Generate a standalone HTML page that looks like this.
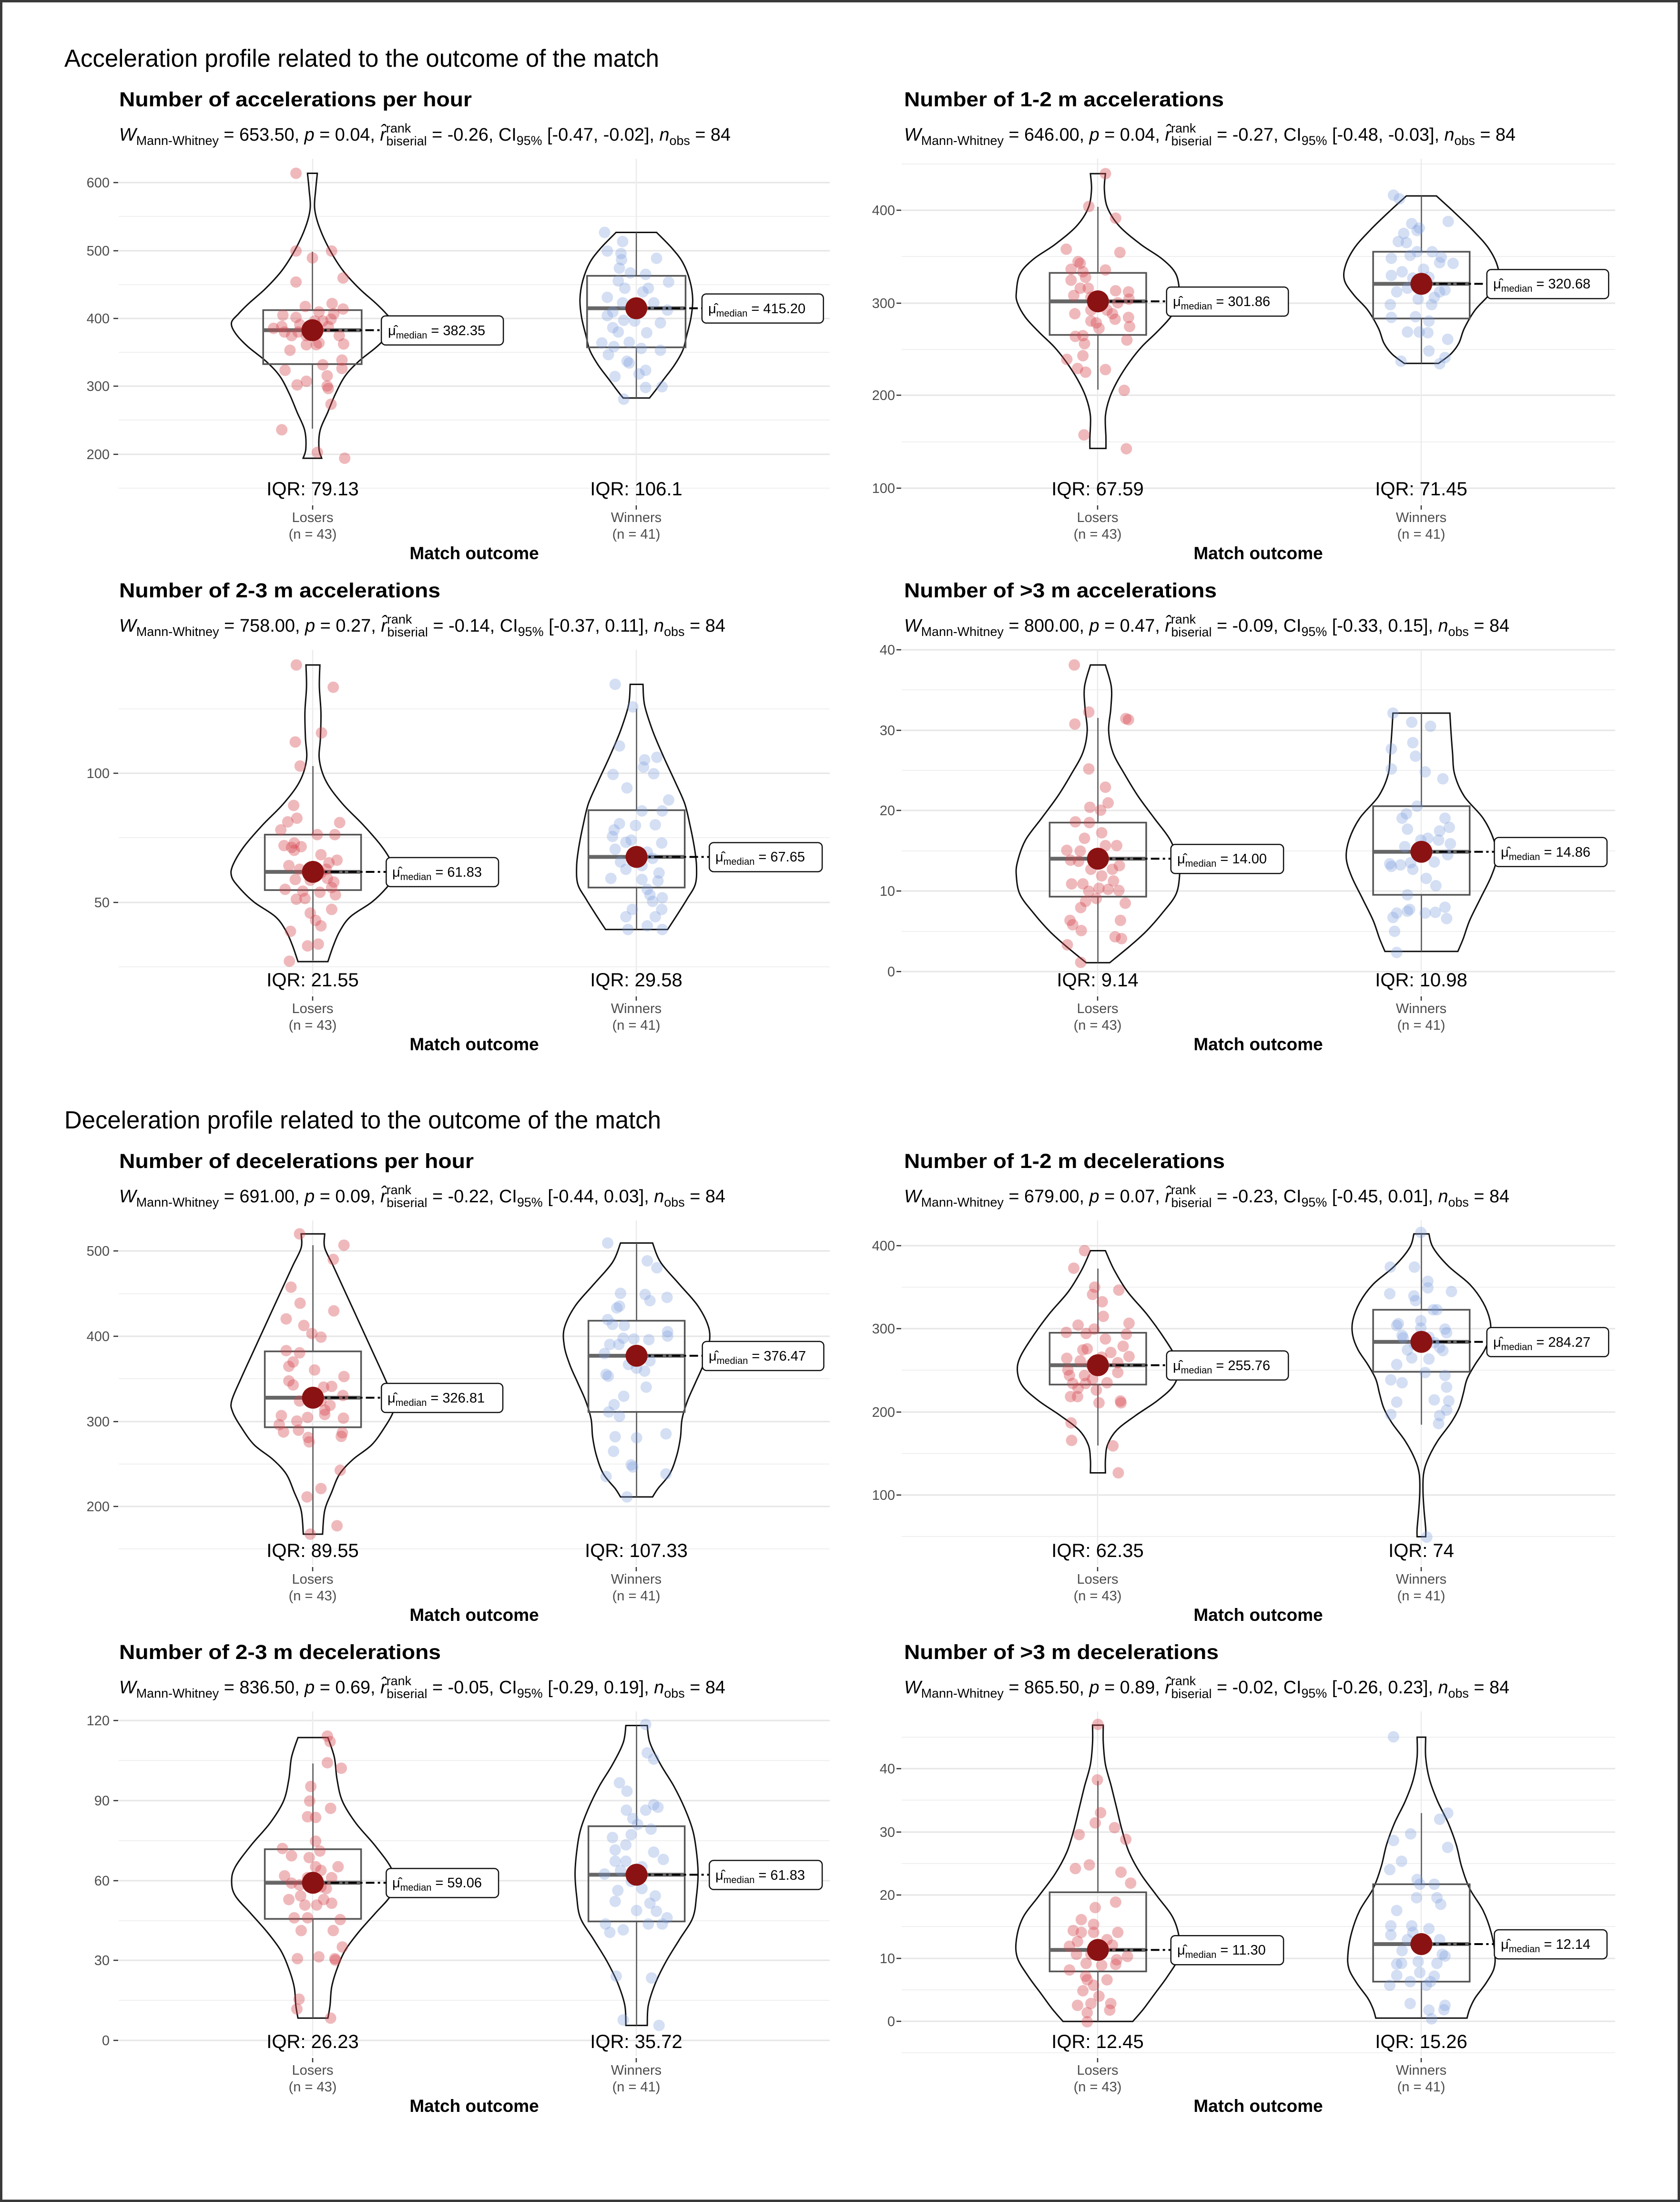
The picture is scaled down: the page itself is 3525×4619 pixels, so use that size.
<!DOCTYPE html>
<html><head><meta charset="utf-8">
<style>
html,body{margin:0;padding:0;background:#fff;}
svg{display:block;}
text{font-family:"Liberation Sans",Arial,sans-serif;}
.sec{font-size:52px;fill:#000;}
.ttl{font-size:43px;font-weight:bold;fill:#000;}
.sub{font-size:38px;fill:#000;}
.s{font-size:27px;}
.tk{font-size:29px;fill:#4d4d4d;text-anchor:end;}
.iqr{font-size:40px;fill:#000;text-anchor:middle;}
.xl{font-size:29px;fill:#4d4d4d;text-anchor:middle;}
.xt{font-size:37px;font-weight:bold;fill:#000;text-anchor:middle;}
.ml{font-size:29px;fill:#000;}
.ms{font-size:20px;}
</style></head>
<body>
<svg id="s" width="3525" height="4619" viewBox="0 0 3525 4619" xmlns="http://www.w3.org/2000/svg">
<rect x="0" y="0" width="3525" height="4619" fill="#fff"/>
<g id="geo"></g>

<text class="sec" x="135" y="140" textLength="1248" lengthAdjust="spacingAndGlyphs">Acceleration profile related to the outcome of the match</text>
<text class="sec" x="135" y="2367" textLength="1252" lengthAdjust="spacingAndGlyphs">Deceleration profile related to the outcome of the match</text>

<!-- Titles -->
<text class="ttl" x="250" y="223" textLength="740" lengthAdjust="spacingAndGlyphs">Number of accelerations per hour</text>
<text class="ttl" x="1897" y="223" textLength="671" lengthAdjust="spacingAndGlyphs">Number of 1-2 m accelerations</text>
<text class="ttl" x="250" y="1253" textLength="674" lengthAdjust="spacingAndGlyphs">Number of 2-3 m accelerations</text>
<text class="ttl" x="1897" y="1253" textLength="656" lengthAdjust="spacingAndGlyphs">Number of &gt;3 m accelerations</text>
<text class="ttl" x="250" y="2450" textLength="744" lengthAdjust="spacingAndGlyphs">Number of decelerations per hour</text>
<text class="ttl" x="1897" y="2450" textLength="673" lengthAdjust="spacingAndGlyphs">Number of 1-2 m decelerations</text>
<text class="ttl" x="250" y="3480" textLength="675" lengthAdjust="spacingAndGlyphs">Number of 2-3 m decelerations</text>
<text class="ttl" x="1897" y="3480" textLength="660" lengthAdjust="spacingAndGlyphs">Number of &gt;3 m decelerations</text>

<!-- Subtitles -->
<text class="sub" x="250" y="295" textLength="1283" lengthAdjust="spacingAndGlyphs"><tspan font-style="italic">W</tspan><tspan class="s" dy="9">Mann-Whitney</tspan><tspan dy="-9"> = 653.50, </tspan><tspan font-style="italic">p</tspan><tspan> = 0.04, </tspan><tspan font-style="italic">r̂</tspan><tspan class="s" dy="-17">rank</tspan><tspan class="s" dx="-52" dy="27">biserial</tspan><tspan dy="-10"> = -0.26, CI</tspan><tspan class="s" dy="9">95%</tspan><tspan dy="-9"> [-0.47, -0.02], </tspan><tspan font-style="italic">n</tspan><tspan class="s" dy="9">obs</tspan><tspan dy="-9"> = 84</tspan></text>
<text class="sub" x="1897" y="295" textLength="1283" lengthAdjust="spacingAndGlyphs"><tspan font-style="italic">W</tspan><tspan class="s" dy="9">Mann-Whitney</tspan><tspan dy="-9"> = 646.00, </tspan><tspan font-style="italic">p</tspan><tspan> = 0.04, </tspan><tspan font-style="italic">r̂</tspan><tspan class="s" dy="-17">rank</tspan><tspan class="s" dx="-52" dy="27">biserial</tspan><tspan dy="-10"> = -0.27, CI</tspan><tspan class="s" dy="9">95%</tspan><tspan dy="-9"> [-0.48, -0.03], </tspan><tspan font-style="italic">n</tspan><tspan class="s" dy="9">obs</tspan><tspan dy="-9"> = 84</tspan></text>
<text class="sub" x="250" y="1325" textLength="1272" lengthAdjust="spacingAndGlyphs"><tspan font-style="italic">W</tspan><tspan class="s" dy="9">Mann-Whitney</tspan><tspan dy="-9"> = 758.00, </tspan><tspan font-style="italic">p</tspan><tspan> = 0.27, </tspan><tspan font-style="italic">r̂</tspan><tspan class="s" dy="-17">rank</tspan><tspan class="s" dx="-52" dy="27">biserial</tspan><tspan dy="-10"> = -0.14, CI</tspan><tspan class="s" dy="9">95%</tspan><tspan dy="-9"> [-0.37, 0.11], </tspan><tspan font-style="italic">n</tspan><tspan class="s" dy="9">obs</tspan><tspan dy="-9"> = 84</tspan></text>
<text class="sub" x="1897" y="1325" textLength="1270" lengthAdjust="spacingAndGlyphs"><tspan font-style="italic">W</tspan><tspan class="s" dy="9">Mann-Whitney</tspan><tspan dy="-9"> = 800.00, </tspan><tspan font-style="italic">p</tspan><tspan> = 0.47, </tspan><tspan font-style="italic">r̂</tspan><tspan class="s" dy="-17">rank</tspan><tspan class="s" dx="-52" dy="27">biserial</tspan><tspan dy="-10"> = -0.09, CI</tspan><tspan class="s" dy="9">95%</tspan><tspan dy="-9"> [-0.33, 0.15], </tspan><tspan font-style="italic">n</tspan><tspan class="s" dy="9">obs</tspan><tspan dy="-9"> = 84</tspan></text>
<text class="sub" x="250" y="2522" textLength="1272" lengthAdjust="spacingAndGlyphs"><tspan font-style="italic">W</tspan><tspan class="s" dy="9">Mann-Whitney</tspan><tspan dy="-9"> = 691.00, </tspan><tspan font-style="italic">p</tspan><tspan> = 0.09, </tspan><tspan font-style="italic">r̂</tspan><tspan class="s" dy="-17">rank</tspan><tspan class="s" dx="-52" dy="27">biserial</tspan><tspan dy="-10"> = -0.22, CI</tspan><tspan class="s" dy="9">95%</tspan><tspan dy="-9"> [-0.44, 0.03], </tspan><tspan font-style="italic">n</tspan><tspan class="s" dy="9">obs</tspan><tspan dy="-9"> = 84</tspan></text>
<text class="sub" x="1897" y="2522" textLength="1270" lengthAdjust="spacingAndGlyphs"><tspan font-style="italic">W</tspan><tspan class="s" dy="9">Mann-Whitney</tspan><tspan dy="-9"> = 679.00, </tspan><tspan font-style="italic">p</tspan><tspan> = 0.07, </tspan><tspan font-style="italic">r̂</tspan><tspan class="s" dy="-17">rank</tspan><tspan class="s" dx="-52" dy="27">biserial</tspan><tspan dy="-10"> = -0.23, CI</tspan><tspan class="s" dy="9">95%</tspan><tspan dy="-9"> [-0.45, 0.01], </tspan><tspan font-style="italic">n</tspan><tspan class="s" dy="9">obs</tspan><tspan dy="-9"> = 84</tspan></text>
<text class="sub" x="250" y="3552" textLength="1272" lengthAdjust="spacingAndGlyphs"><tspan font-style="italic">W</tspan><tspan class="s" dy="9">Mann-Whitney</tspan><tspan dy="-9"> = 836.50, </tspan><tspan font-style="italic">p</tspan><tspan> = 0.69, </tspan><tspan font-style="italic">r̂</tspan><tspan class="s" dy="-17">rank</tspan><tspan class="s" dx="-52" dy="27">biserial</tspan><tspan dy="-10"> = -0.05, CI</tspan><tspan class="s" dy="9">95%</tspan><tspan dy="-9"> [-0.29, 0.19], </tspan><tspan font-style="italic">n</tspan><tspan class="s" dy="9">obs</tspan><tspan dy="-9"> = 84</tspan></text>
<text class="sub" x="1897" y="3552" textLength="1270" lengthAdjust="spacingAndGlyphs"><tspan font-style="italic">W</tspan><tspan class="s" dy="9">Mann-Whitney</tspan><tspan dy="-9"> = 865.50, </tspan><tspan font-style="italic">p</tspan><tspan> = 0.89, </tspan><tspan font-style="italic">r̂</tspan><tspan class="s" dy="-17">rank</tspan><tspan class="s" dx="-52" dy="27">biserial</tspan><tspan dy="-10"> = -0.02, CI</tspan><tspan class="s" dy="9">95%</tspan><tspan dy="-9"> [-0.26, 0.23], </tspan><tspan font-style="italic">n</tspan><tspan class="s" dy="9">obs</tspan><tspan dy="-9"> = 84</tspan></text>

<!-- Y tick labels -->
<g class="tk">
<text class="tk" x="230" y="393">600</text><text class="tk" x="230" y="536">500</text><text class="tk" x="230" y="678">400</text><text class="tk" x="230" y="820">300</text><text class="tk" x="230" y="963">200</text>
<text class="tk" x="1878" y="451">400</text><text class="tk" x="1878" y="646">300</text><text class="tk" x="1878" y="839">200</text><text class="tk" x="1878" y="1034">100</text>
<text class="tk" x="230" y="1632">100</text><text class="tk" x="230" y="1903">50</text>
<text class="tk" x="1878" y="1373">40</text><text class="tk" x="1878" y="1542">30</text><text class="tk" x="1878" y="1710">20</text><text class="tk" x="1878" y="1879">10</text><text class="tk" x="1878" y="2048">0</text>
<text class="tk" x="230" y="2634">500</text><text class="tk" x="230" y="2813">400</text><text class="tk" x="230" y="2992">300</text><text class="tk" x="230" y="3170">200</text>
<text class="tk" x="1878" y="2623">400</text><text class="tk" x="1878" y="2797">300</text><text class="tk" x="1878" y="2972">200</text><text class="tk" x="1878" y="3146">100</text>
<text class="tk" x="230" y="3619">120</text><text class="tk" x="230" y="3787">90</text><text class="tk" x="230" y="3955">60</text><text class="tk" x="230" y="4122">30</text><text class="tk" x="230" y="4290">0</text>
<text class="tk" x="1878" y="3720">40</text><text class="tk" x="1878" y="3853">30</text><text class="tk" x="1878" y="3985">20</text><text class="tk" x="1878" y="4118">10</text><text class="tk" x="1878" y="4250">0</text>
</g>

<!-- IQR labels -->
<text class="iqr" x="656" y="1039">IQR: 79.13</text><text class="iqr" x="1335" y="1039">IQR: 106.1</text>
<text class="iqr" x="2303" y="1039">IQR: 67.59</text><text class="iqr" x="2982" y="1039">IQR: 71.45</text>
<text class="iqr" x="656" y="2069">IQR: 21.55</text><text class="iqr" x="1335" y="2069">IQR: 29.58</text>
<text class="iqr" x="2303" y="2069">IQR: 9.14</text><text class="iqr" x="2982" y="2069">IQR: 10.98</text>
<text class="iqr" x="656" y="3266">IQR: 89.55</text><text class="iqr" x="1335" y="3266">IQR: 107.33</text>
<text class="iqr" x="2303" y="3266">IQR: 62.35</text><text class="iqr" x="2982" y="3266">IQR: 74</text>
<text class="iqr" x="656" y="4296">IQR: 26.23</text><text class="iqr" x="1335" y="4296">IQR: 35.72</text>
<text class="iqr" x="2303" y="4296">IQR: 12.45</text><text class="iqr" x="2982" y="4296">IQR: 15.26</text>

<!-- X labels -->
<text class="xl" x="656" y="1095">Losers</text><text class="xl" x="656" y="1130">(n = 43)</text><text class="xl" x="1335" y="1095">Winners</text><text class="xl" x="1335" y="1130">(n = 41)</text><text class="xt" x="995" y="1173">Match outcome</text>
<text class="xl" x="2303" y="1095">Losers</text><text class="xl" x="2303" y="1130">(n = 43)</text><text class="xl" x="2982" y="1095">Winners</text><text class="xl" x="2982" y="1130">(n = 41)</text><text class="xt" x="2640" y="1173">Match outcome</text>
<text class="xl" x="656" y="2125">Losers</text><text class="xl" x="656" y="2160">(n = 43)</text><text class="xl" x="1335" y="2125">Winners</text><text class="xl" x="1335" y="2160">(n = 41)</text><text class="xt" x="995" y="2203">Match outcome</text>
<text class="xl" x="2303" y="2125">Losers</text><text class="xl" x="2303" y="2160">(n = 43)</text><text class="xl" x="2982" y="2125">Winners</text><text class="xl" x="2982" y="2160">(n = 41)</text><text class="xt" x="2640" y="2203">Match outcome</text>
<text class="xl" x="656" y="3322">Losers</text><text class="xl" x="656" y="3357">(n = 43)</text><text class="xl" x="1335" y="3322">Winners</text><text class="xl" x="1335" y="3357">(n = 41)</text><text class="xt" x="995" y="3400">Match outcome</text>
<text class="xl" x="2303" y="3322">Losers</text><text class="xl" x="2303" y="3357">(n = 43)</text><text class="xl" x="2982" y="3322">Winners</text><text class="xl" x="2982" y="3357">(n = 41)</text><text class="xt" x="2640" y="3400">Match outcome</text>
<text class="xl" x="656" y="4352">Losers</text><text class="xl" x="656" y="4387">(n = 43)</text><text class="xl" x="1335" y="4352">Winners</text><text class="xl" x="1335" y="4387">(n = 41)</text><text class="xt" x="995" y="4430">Match outcome</text>
<text class="xl" x="2303" y="4352">Losers</text><text class="xl" x="2303" y="4387">(n = 43)</text><text class="xl" x="2982" y="4352">Winners</text><text class="xl" x="2982" y="4387">(n = 41)</text><text class="xt" x="2640" y="4430">Match outcome</text>

<!-- Median labels -->
<text class="ml" x="814" y="703">μ̂<tspan class="ms" dy="7">median</tspan><tspan dy="-7"> = 382.35</tspan></text>
<text class="ml" x="1486" y="657">μ̂<tspan class="ms" dy="7">median</tspan><tspan dy="-7"> = 415.20</tspan></text>
<text class="ml" x="2461" y="642">μ̂<tspan class="ms" dy="7">median</tspan><tspan dy="-7"> = 301.86</tspan></text>
<text class="ml" x="3133" y="605">μ̂<tspan class="ms" dy="7">median</tspan><tspan dy="-7"> = 320.68</tspan></text>
<text class="ml" x="823" y="1839">μ̂<tspan class="ms" dy="7">median</tspan><tspan dy="-7"> = 61.83</tspan></text>
<text class="ml" x="1501" y="1807">μ̂<tspan class="ms" dy="7">median</tspan><tspan dy="-7"> = 67.65</tspan></text>
<text class="ml" x="2470" y="1811">μ̂<tspan class="ms" dy="7">median</tspan><tspan dy="-7"> = 14.00</tspan></text>
<text class="ml" x="3149" y="1797">μ̂<tspan class="ms" dy="7">median</tspan><tspan dy="-7"> = 14.86</tspan></text>
<text class="ml" x="813" y="2942">μ̂<tspan class="ms" dy="7">median</tspan><tspan dy="-7"> = 326.81</tspan></text>
<text class="ml" x="1487" y="2854">μ̂<tspan class="ms" dy="7">median</tspan><tspan dy="-7"> = 376.47</tspan></text>
<text class="ml" x="2461" y="2874">μ̂<tspan class="ms" dy="7">median</tspan><tspan dy="-7"> = 255.76</tspan></text>
<text class="ml" x="3133" y="2825">μ̂<tspan class="ms" dy="7">median</tspan><tspan dy="-7"> = 284.27</tspan></text>
<text class="ml" x="823" y="3959">μ̂<tspan class="ms" dy="7">median</tspan><tspan dy="-7"> = 59.06</tspan></text>
<text class="ml" x="1501" y="3943">μ̂<tspan class="ms" dy="7">median</tspan><tspan dy="-7"> = 61.83</tspan></text>
<text class="ml" x="2470" y="4100">μ̂<tspan class="ms" dy="7">median</tspan><tspan dy="-7"> = 11.30</tspan></text>
<text class="ml" x="3149" y="4088">μ̂<tspan class="ms" dy="7">median</tspan><tspan dy="-7"> = 12.14</tspan></text>

<rect x="2.5" y="2.5" width="3520" height="4614" fill="none" stroke="#3a3a3a" stroke-width="5"/>
</svg>
<script>
(function(){
var NS="http://www.w3.org/2000/svg",G=document.getElementById("geo");
function el(t,a){var e=document.createElementNS(NS,t);for(var k in a)e.setAttribute(k,a[k]);G.appendChild(e);return e;}
var SY=0.7653;
// grids: x0,x1, major ys, minor ys, R(row offset), groups x
var grids=[
 {x0:249,x1:1741,R:0,maj:[383,526,668,810,953],min:[454,597,739,881,1024],gx:[656,1335]},
 {x0:1892,x1:3389,R:0,maj:[441,636,829,1024],min:[344,538,733,927],gx:[2303,2982]},
 {x0:249,x1:1741,R:1030,maj:[1622,1893],min:[1487,1757,2028],gx:[656,1335]},
 {x0:1892,x1:3389,R:1030,maj:[1363,1532,1700,1869,2038],min:[1447,1616,1785,1954],gx:[2303,2982]},
 {x0:249,x1:1741,R:2227,maj:[2624,2803,2982,3160],min:[2714,2892,3071,3249],gx:[656,1335]},
 {x0:1892,x1:3389,R:2227,maj:[2613,2787,2962,3136],min:[2700,2874,3049,3223],gx:[2303,2982]},
 {x0:249,x1:1741,R:3257,maj:[3609,3777,3945,4112,4280],min:[3693,3861,4029,4196],gx:[656,1335]},
 {x0:1892,x1:3389,R:3257,maj:[3710,3843,3975,4108,4240],min:[3644,3776,3909,4041,4174,4306],gx:[2303,2982]}
];
grids.forEach(function(g){
 g.min.forEach(function(y){el("line",{x1:g.x0,x2:g.x1,y1:y,y2:y,stroke:"#f0f0f0","stroke-width":2});});
 g.maj.forEach(function(y){el("line",{x1:g.x0,x2:g.x1,y1:y,y2:y,stroke:"#e6e6e6","stroke-width":3});
   el("line",{x1:g.x0-11,x2:g.x0-1,y1:y,y2:y,stroke:"#333","stroke-width":2.5});});
 g.gx.forEach(function(x){el("line",{x1:x,x2:x,y1:333+g.R,y2:1056+g.R,stroke:"#ebebeb","stroke-width":2.5});
   el("line",{x1:x,x2:x,y1:1060+g.R,y2:1069+g.R,stroke:"#333","stroke-width":2.5});});
});
function crPath(pts){ // catmull-rom through pts, starting at pts[0] (assumed current point)
 var d="";
 for(var i=0;i<pts.length-1;i++){
  var p0=pts[i-1]||pts[i],p1=pts[i],p2=pts[i+1],p3=pts[i+2]||p2;
  var c1x=p1[0]+(p2[0]-p0[0])/6,c1y=p1[1]+(p2[1]-p0[1])/6,c2x=p2[0]-(p3[0]-p1[0])/6,c2y=p2[1]-(p3[1]-p1[1])/6;
  d+=" C"+c1x.toFixed(1)+","+c1y.toFixed(1)+" "+c2x.toFixed(1)+","+c2y.toFixed(1)+" "+p2[0].toFixed(1)+","+p2[1].toFixed(1);
 }
 return d;
}
var P=[
{ox:0,oy:0,sx:1.148,g:[
 {cx:571,prof:[[475,9],[520,6],[570,4],[620,12],[680,30],[740,55],[790,85],[830,115],[860,135],[885,148],[915,140],[950,118],[990,85],[1030,60],[1080,42],[1130,28],[1180,14],[1230,12],[1256,17]],box:[850,998],med:905,wh:[690,1175],lab:[697,920],c:0,
  d:[[541,475],[541,688],[606,688],[571,707],[627,762],[541,773],[558,840],[607,832],[627,847],[583,855],[517,864],[541,870],[605,875],[515,895],[533,920],[548,890],[600,895],[583,940],[560,945],[578,945],[628,943],[520,910],[625,987],[625,1010],[521,1015],[598,1030],[560,1045],[543,1055],[598,1058],[600,1065],[605,1108],[515,1178],[580,1240],[630,1256],[590,880],[560,920],[575,880],[545,910],[610,860],[500,900],[590,1000],[530,960],[620,920]]},
 {cx:1163,prof:[[637,37],[680,65],[720,85],[770,98],[820,103],[870,100],[920,92],[960,85],[1000,70],[1040,50],[1070,35],[1091,24]],box:[756,952],med:845,wh:[637,1091],lab:[1283,1505],c:1,
  d:[[1105,637],[1138,662],[1110,688],[1135,695],[1136,712],[1200,708],[1132,735],[1180,752],[1152,748],[1222,773],[1130,770],[1142,790],[1110,815],[1175,800],[1138,830],[1120,855],[1165,855],[1110,865],[1140,878],[1207,885],[1220,850],[1120,898],[1182,912],[1122,950],[1150,938],[1172,955],[1207,960],[1112,972],[1146,990],[1150,995],[1180,1015],[1124,1032],[1210,1060],[1180,1062],[1140,1094],[1160,880],[1195,830],[1130,910],[1185,790],[1100,940],[1168,1025]]}]},
{ox:1760,oy:0,sx:1.1256,g:[
 {cx:483,prof:[[476,14],[520,12],[570,18],[620,40],[670,80],[710,120],[750,145],[800,152],[830,150],[870,135],[910,110],[950,82],[990,60],[1040,38],[1090,22],[1140,14],[1200,15],[1229,15]],box:[748,918],med:826,wh:[567,1068],lab:[611,838],c:0,
  d:[[497,476],[466,566],[516,598],[424,683],[524,692],[446,717],[450,722],[497,740],[433,738],[455,745],[460,760],[433,768],[465,790],[516,797],[540,800],[438,810],[470,815],[541,820],[500,850],[540,870],[470,880],[515,875],[480,885],[542,895],[441,922],[455,920],[458,942],[537,932],[425,985],[455,975],[445,1010],[460,1020],[497,1013],[532,1070],[457,1192],[536,1230],[490,830],[510,860],[470,850],[440,860],[485,900],[520,830],[450,790]]},
 {cx:1086,prof:[[537,28],[580,60],[630,95],[680,125],[730,142],[770,143],[810,125],[850,100],[900,80],[940,70],[970,55],[996,32]],box:[690,873],med:778,wh:[537,996],lab:[1208,1435],c:1,
  d:[[1034,535],[1045,545],[1136,607],[1068,613],[1078,632],[1082,625],[1053,640],[1043,662],[1058,665],[1078,690],[1106,690],[1123,705],[1030,708],[1145,722],[1050,745],[1090,738],[1030,755],[1070,762],[1100,760],[1130,795],[1120,800],[1080,820],[1105,835],[1028,835],[1030,870],[1075,868],[1100,880],[1060,910],[1082,910],[1098,912],[1135,930],[1100,962],[1130,980],[1120,997],[1048,990],[1060,790],[1040,800],[1090,790],[1110,815],[1065,700],[1120,720]]}]},
{ox:0,oy:1150,sx:1.1224,g:[
 {cx:585,prof:[[320,13],[380,12],[450,15],[520,14],[580,12],[640,25],[700,55],[760,95],[820,130],[870,150],[900,152],[930,138],[970,110],[1010,70],[1050,50],[1090,38],[1133,28]],box:[785,937],med:887,wh:[597,1130],lab:[722,932],c:0,
  d:[[554,320],[623,381],[601,506],[552,531],[561,597],[549,705],[538,750],[635,752],[525,772],[593,785],[626,785],[550,808],[531,815],[563,818],[550,828],[630,855],[615,862],[610,880],[552,908],[580,910],[624,915],[612,905],[533,935],[566,940],[598,943],[627,950],[554,962],[590,1020],[600,1035],[543,1050],[575,1090],[595,1085],[541,1132],[560,880],[600,840],[540,870],[620,930],[570,960],[600,890],[545,820],[580,1000],[620,990],[555,740]]},
 {cx:1190,prof:[[373,12],[430,15],[500,30],[570,50],[640,72],[700,90],[760,100],[820,108],[870,112],[920,110],[960,95],[1000,78],[1045,58]],box:[718,930],med:846,wh:[440,1045],lab:[1326,1537],c:1,
  d:[[1150,373],[1183,435],[1158,542],[1228,573],[1205,580],[1203,600],[1146,620],[1222,618],[1172,657],[1250,690],[1200,720],[1238,720],[1158,755],[1188,760],[1225,758],[1148,772],[1145,790],[1170,806],[1237,808],[1150,825],[1210,833],[1170,880],[1232,890],[1142,905],[1200,908],[1230,912],[1210,935],[1215,950],[1238,958],[1220,968],[1182,990],[1237,990],[1170,1010],[1225,1010],[1210,1035],[1174,1045],[1238,1045],[1160,860],[1200,870],[1180,800],[1220,850]]}]},
{ox:1760,oy:1150,sx:1.1256,g:[
 {cx:483,prof:[[320,14],[380,25],[440,24],[500,20],[560,28],[620,50],[680,75],[740,105],[800,135],[860,150],[900,152],[950,145],[1000,120],[1050,90],[1090,60],[1136,22]],box:[752,955],med:851,wh:[465,1136],lab:[619,829],c:0,
  d:[[439,320],[466,449],[440,482],[535,467],[540,470],[466,605],[497,655],[502,698],[468,710],[488,718],[441,750],[467,752],[490,780],[458,795],[518,815],[425,828],[497,815],[432,855],[447,858],[523,870],[490,898],[455,920],[512,912],[434,920],[466,940],[502,935],[522,938],[485,932],[460,968],[534,973],[451,985],[431,1020],[525,1020],[436,1032],[452,1048],[515,1065],[527,1070],[426,1087],[451,1135],[470,880],[510,880],[480,960],[450,830]]},
 {cx:1086,prof:[[452,53],[500,55],[560,58],[620,62],[680,80],[740,115],[800,135],[850,140],[900,130],[960,110],[1020,90],[1070,78],[1105,68]],box:[707,950],med:832,wh:[452,1105],lab:[1222,1432],c:1,
  d:[[1033,452],[1068,477],[1103,488],[1070,533],[1030,550],[1075,570],[1030,605],[1093,613],[1126,632],[1078,707],[1058,728],[1130,740],[1138,765],[1060,770],[1098,795],[1118,800],[1135,840],[1055,818],[1027,865],[1047,868],[1066,862],[1030,872],[1095,905],[1113,925],[1060,950],[1064,990],[1060,995],[1093,1000],[1112,998],[1130,984],[1033,1012],[1133,1015],[1036,1050],[1040,1108],[1085,800],[1110,860],[1140,810],[1070,880],[1050,740],[1120,775],[1040,1000]]}]},
{ox:0,oy:2250,sx:1.1224,g:[
 {cx:585,prof:[[442,22],[480,22],[530,38],[600,60],[680,85],[760,110],[840,135],[900,152],[930,150],[970,135],[1020,110],[1060,75],[1100,50],[1150,35],[1200,22],[1265,18]],box:[764,972],med:891,wh:[473,1265],lab:[713,940],c:0,
  d:[[560,442],[643,473],[623,512],[544,588],[561,632],[624,653],[535,675],[568,693],[583,715],[600,725],[535,762],[560,768],[548,793],[540,805],[588,815],[643,833],[540,845],[548,856],[605,862],[641,885],[617,912],[607,925],[526,940],[555,955],[575,945],[642,947],[607,937],[522,965],[530,985],[558,980],[640,987],[638,997],[576,1000],[578,1012],[636,1090],[600,1140],[574,1163],[630,1242],[580,1265],[590,880],[620,860],[560,900],[600,900]]},
 {cx:1190,prof:[[467,30],[520,45],[580,80],[640,115],[700,135],[750,135],[800,125],[850,110],[900,95],[950,85],[1000,82],[1050,75],[1100,62],[1140,40],[1163,30]],box:[680,930],med:776,wh:[467,1163],lab:[1313,1540],c:1,
  d:[[1136,467],[1210,516],[1228,535],[1160,605],[1206,608],[1215,625],[1247,616],[1158,640],[1153,645],[1136,677],[1145,690],[1167,693],[1248,710],[1165,728],[1185,730],[1213,732],[1248,722],[1140,745],[1157,745],[1200,782],[1190,810],[1205,818],[1133,827],[1137,832],[1208,862],[1166,887],[1148,910],[1138,930],[1158,942],[1150,998],[1190,1001],[1245,990],[1147,1038],[1180,1075],[1183,1081],[1133,1107],[1245,1100],[1172,1163],[1175,800],[1215,790],[1130,770]]}]},
{ox:1760,oy:2250,sx:1.1256,g:[
 {cx:483,prof:[[488,14],[540,30],[600,55],[660,90],[720,120],[780,145],[820,150],[860,140],[900,110],[940,70],[980,35],[1020,18],[1060,14],[1097,14]],box:[713,855],med:802,wh:[537,1022],lab:[611,838],c:0,
  d:[[458,488],[438,536],[477,588],[522,596],[473,608],[491,628],[493,668],[541,687],[446,692],[476,703],[536,717],[424,712],[461,715],[497,730],[463,757],[507,767],[541,778],[425,783],[450,790],[520,795],[427,815],[520,822],[458,830],[473,840],[436,852],[446,865],[460,852],[432,888],[445,888],[485,905],[526,905],[525,900],[433,960],[434,1008],[511,1023],[521,1097],[470,800],[500,850],[455,760],[490,780],[530,750],[430,830],[480,870]]},
 {cx:1086,prof:[[442,14],[480,22],[530,50],[580,90],[630,115],[680,128],[720,128],[760,118],[800,100],[840,85],[880,78],[920,70],[960,55],[1010,30],[1060,12],[1100,4],[1150,3],[1200,5],[1250,8],[1272,8]],box:[650,820],med:738,wh:[442,965],lab:[1208,1435],c:1,
  d:[[1085,438],[1028,533],[1073,533],[1098,572],[1098,590],[1142,600],[1027,606],[1072,612],[1075,625],[1108,650],[1115,650],[1043,688],[1085,680],[1040,693],[1130,703],[1052,727],[1100,725],[1133,713],[1073,744],[1120,753],[1126,762],[1068,782],[1100,785],[1093,822],[1029,842],[1133,862],[1110,897],[1040,903],[1137,900],[1133,925],[1029,937],[1118,962],[1096,1273],[1050,720],[1085,700],[1110,740],[1060,760],[1040,800],[1130,830],[1050,850],[1120,940]]}]},
{ox:0,oy:3380,sx:1.1224,g:[
 {cx:585,prof:[[346,28],[400,40],[460,45],[520,55],[580,80],[640,115],[700,145],[740,152],[780,145],[830,115],[880,85],[930,60],[980,45],[1030,35],[1080,32],[1115,28]],box:[652,843],med:744,wh:[417,1115],lab:[722,932],c:0,
  d:[[612,342],[617,357],[612,415],[638,430],[581,480],[579,520],[618,540],[575,563],[590,565],[590,630],[598,657],[528,650],[545,670],[578,675],[632,700],[532,725],[575,730],[620,730],[545,745],[600,755],[562,780],[605,790],[570,805],[592,805],[550,840],[636,845],[563,875],[623,875],[640,920],[556,952],[596,947],[626,952],[627,956],[559,1063],[555,1090],[618,1115],[590,700],[560,750],[610,760],[575,840],[600,710],[540,790],[620,800]]},
 {cx:1190,prof:[[313,20],[360,25],[420,45],[480,70],[540,90],[600,105],[660,112],[720,115],[780,112],[840,105],[900,80],[960,55],[1020,35],[1080,22],[1135,20]],box:[589,850],med:722,wh:[313,1135],lab:[1326,1537],c:1,
  d:[[1207,310],[1210,388],[1222,405],[1158,470],[1172,493],[1222,530],[1230,537],[1171,545],[1207,545],[1183,568],[1192,584],[1217,597],[1180,612],[1150,654],[1222,660],[1150,685],[1170,685],[1155,765],[1150,795],[1215,800],[1227,822],[1247,840],[1212,857],[1238,857],[1132,857],[1140,880],[1165,873],[1152,1000],[1218,1005],[1165,1120],[1232,1135],[1200,700],[1180,740],[1160,710],[1240,680],[1130,720],[1200,760],[1170,640],[1225,780],[1190,820],[1145,620]]}]},
{ox:1760,oy:3380,sx:1.1256,g:[
 {cx:483,prof:[[312,10],[360,10],[420,14],[480,25],[540,35],[600,45],[660,58],[720,80],[780,110],[840,140],[900,152],[950,150],[1000,130],[1050,105],[1090,85],[1124,65]],box:[770,987],med:928,wh:[465,1124],lab:[619,829],c:0,
  d:[[483,310],[482,462],[488,552],[478,580],[514,593],[448,612],[535,625],[467,695],[441,705],[526,715],[544,745],[516,797],[478,812],[452,845],[475,858],[437,875],[452,880],[430,918],[510,915],[443,940],[538,946],[518,955],[461,965],[516,968],[430,983],[460,1000],[463,1010],[475,1025],[485,1055],[445,1080],[470,1075],[507,1075],[505,1093],[463,1100],[463,1125],[470,940],[500,900],[445,905],[490,970],[520,880],[455,1040],[500,1010],[475,880]]},
 {cx:1086,prof:[[345,8],[400,8],[460,15],[520,30],[580,50],[640,65],[700,75],[760,90],[820,115],[880,130],[940,137],[980,135],[1020,120],[1060,100],[1090,90],[1115,85]],box:[748,1015],med:912,wh:[553,1115],lab:[1222,1432],c:1,
  d:[[1034,344],[1135,553],[1120,570],[1066,610],[1034,628],[1135,647],[1049,685],[1027,708],[1078,735],[1083,748],[1110,748],[1115,785],[1077,785],[1122,803],[1029,862],[1068,862],[1029,887],[1130,945],[1049,965],[1040,967],[1115,965],[1083,990],[1040,998],[1103,1015],[1065,1015],[1027,1025],[1095,1025],[1065,1075],[1130,1080],[1128,1092],[1100,1093],[1105,1117],[1060,900],[1100,870],[1050,930],[1120,900],[1070,880],[1040,820],[1110,1000],[1080,960],[1125,940]]}]}
];
var cols=["rgba(214,70,80,0.38)","rgba(120,155,220,0.32)"];
P.forEach(function(p){
 function X(z){return p.ox+z*p.sx;} function Y(z){return p.oy+z*SY;}
 p.g.forEach(function(g){
  var cx=X(g.cx);
  var R=g.prof.map(function(a){return [cx+a[1]*p.sx,Y(a[0])];});
  var L=g.prof.map(function(a){return [cx-a[1]*p.sx,Y(a[0])];}).reverse();
  var d="M"+L[L.length-1][0].toFixed(1)+","+L[L.length-1][1].toFixed(1)+" L"+R[0][0].toFixed(1)+","+R[0][1].toFixed(1)+crPath(R)+" L"+L[0][0].toFixed(1)+","+L[0][1].toFixed(1)+crPath(L)+" Z";
  el("path",{d:d,fill:"none",stroke:"#111","stroke-width":3});
  var hw=90*p.sx, bt=Y(g.box[0]), bb=Y(g.box[1]), my=Y(g.med);
  el("line",{x1:cx,x2:cx,y1:Y(g.wh[0]),y2:bt,stroke:"#555","stroke-width":2.5});
  el("line",{x1:cx,x2:cx,y1:bb,y2:Y(g.wh[1]),stroke:"#555","stroke-width":2.5});
  el("rect",{x:cx-hw,y:bt,width:2*hw,height:bb-bt,fill:"none",stroke:"#555","stroke-width":3.5});
  el("line",{x1:cx-hw,x2:cx+hw,y1:my,y2:my,stroke:"#666","stroke-width":8});
  g.d.forEach(function(q){el("circle",{cx:X(q[0]),cy:Y(q[1]),r:12,fill:cols[g.c]});});
  var lx=X(g.lab[0]), lw=(g.lab[1]-g.lab[0])*p.sx;
  el("line",{x1:cx,x2:lx,y1:my,y2:my,stroke:"#000","stroke-width":4,"stroke-dasharray":"18,7,5,7"});
  el("circle",{cx:cx,cy:my,r:23,fill:"#8b1212"});
  el("rect",{x:lx,y:my-30,width:lw,height:61,rx:9,fill:"#fff",stroke:"#111","stroke-width":2.5});
 });
});
})();
</script>
</body></html>
